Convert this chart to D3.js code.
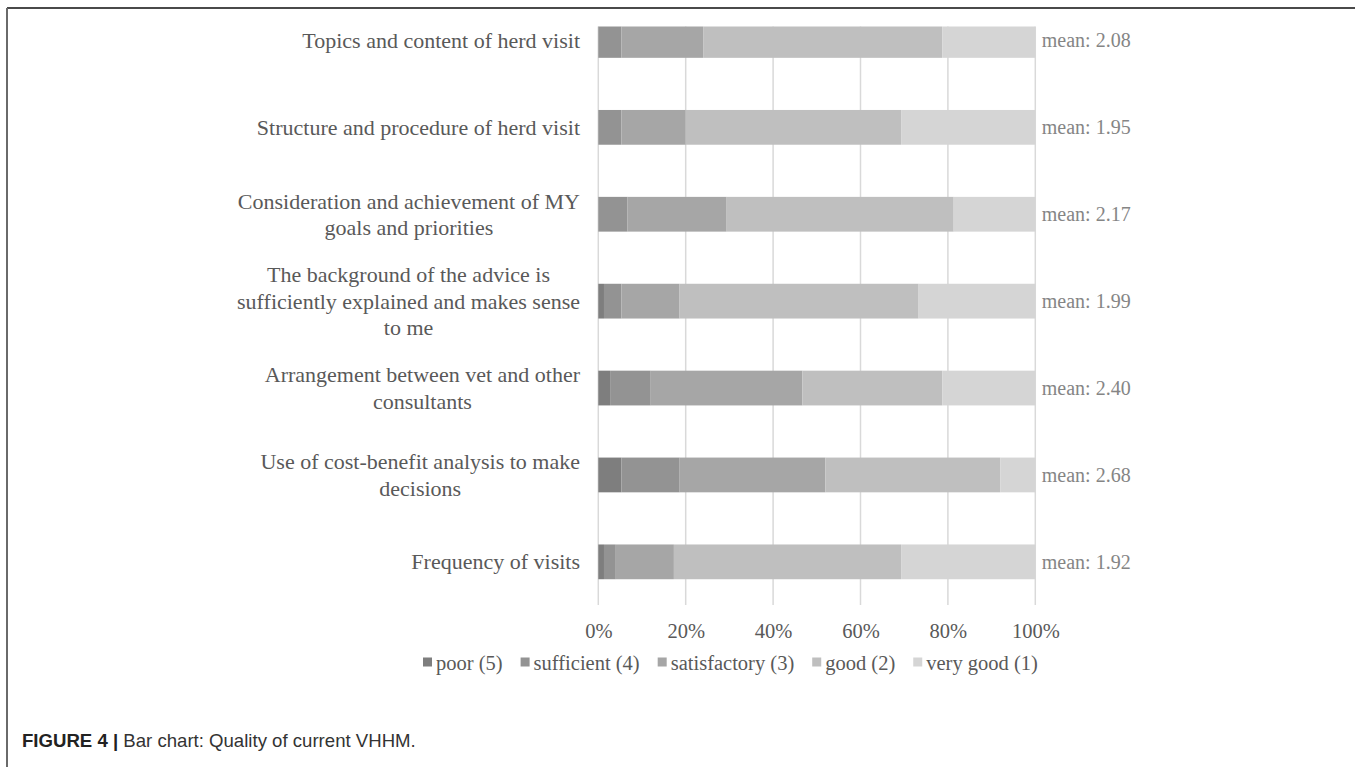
<!DOCTYPE html>
<html>
<head>
<meta charset="utf-8">
<script src="https://cdn.jsdelivr.net/npm/d3@7"></script>
<style>
  html, body { margin: 0; padding: 0; background: #fff; }
  svg { display: block; }
</style>
</head>
<body>
<svg id="chart" width="1355" height="767"></svg>
<script>
// Survey items, top to bottom
const categories = [
  "Topics and content of herd visit",
  "Structure and procedure of herd visit",
  "Consideration and achievement of MY goals and priorities",
  "The background of the advice is sufficiently explained and makes sense to me",
  "Arrangement between vet and other consultants",
  "Use of cost-benefit analysis to make decisions",
  "Frequency of visits"
];

// Rating levels (worst to best), stacked left to right
const ratings = ["poor (5)", "sufficient (4)", "satisfactory (3)", "good (2)", "very good (1)"];

// Share of answers per rating, in percent, one value per item
const poor         = [0.0, 0.0, 0.0, 1.3, 2.7, 5.3, 1.3];
const sufficient   = [5.3, 5.3, 6.7, 4.0, 9.3, 13.3, 2.7];
const satisfactory = [18.7, 14.7, 22.7, 13.3, 34.7, 33.3, 13.3];
const good         = [54.7, 49.3, 52.0, 54.7, 32.0, 40.0, 52.0];
const veryGood     = [21.3, 30.7, 18.7, 26.7, 21.3, 8.0, 30.7];

// Mean rating per item
const means = [2.08, 1.95, 2.17, 1.99, 2.40, 2.68, 1.92];

const tickValues = [0, 0.2, 0.4, 0.6, 0.8, 1.0];

const colors = ["#7e7e7e", "#939393", "#a6a6a6", "#bfbfbf", "#d5d5d5"];

const seriesValues = [poor, sufficient, satisfactory, good, veryGood];
const rows = categories.map((c, i) => {
  const r = { category: c };
  ratings.forEach((k, j) => { r[k] = seriesValues[j][i]; });
  return r;
});

const svg = d3.select("#chart");
const serif = "'Liberation Serif', 'Times New Roman', serif";

// Figure frame
svg.append("line").attr("x1", 7).attr("x2", 1355).attr("y1", 8).attr("y2", 8)
  .attr("stroke", "#4a4a4a").attr("stroke-width", 2);
svg.append("line").attr("x1", 7).attr("x2", 7).attr("y1", 8).attr("y2", 767)
  .attr("stroke", "#6a6a6a").attr("stroke-width", 2);

const plotTop = 26.5, plotBottom = 605;

const x = d3.scaleLinear().domain([0, 1]).range([598.3, 1035.3]);
const y = d3.scaleBand().domain(categories).range([-3, 605.3])
  .paddingInner(0.6).paddingOuter(0.3);

// Vertical gridlines
svg.append("g").selectAll("line").data(tickValues).join("line")
  .attr("x1", d => x(d)).attr("x2", d => x(d))
  .attr("y1", plotTop).attr("y2", plotBottom)
  .attr("stroke", "#d9d9d9").attr("stroke-width", 1.5);

// Tick labels
const xAxis = d3.axisBottom(x).tickValues(tickValues).tickFormat(d3.format(".0%")).tickSize(0).tickPadding(0);
const ax = svg.append("g").attr("transform", `translate(0, ${plotBottom})`).call(xAxis);
ax.select(".domain").remove();
ax.selectAll("text").attr("dy", null).attr("y", 33)
  .attr("font-family", serif).attr("font-size", 20.5).attr("fill", "#595959");

// Stacked bars (100%)
const stack = d3.stack().keys(ratings).offset(d3.stackOffsetExpand);
const stacked = stack(rows);

svg.append("clipPath").attr("id", "plot-clip").append("rect")
  .attr("x", 0).attr("y", plotTop).attr("width", 1355).attr("height", plotBottom - plotTop);

const barsG = svg.append("g").attr("clip-path", "url(#plot-clip)");
barsG.selectAll("g").data(stacked).join("g")
  .attr("fill", (d, i) => colors[i])
  .selectAll("rect").data(d => d).join("rect")
  .attr("x", d => x(d[0]))
  .attr("width", d => x(d[1]) - x(d[0]))
  .attr("y", d => y(d.data.category))
  .attr("height", y.bandwidth());

// Category labels: wrapped, block right-aligned, lines centred in block
const catFont = 22, lineH = 26.4, wrapWidth = 360;
const measure = svg.append("text").attr("font-family", serif).attr("font-size", catFont).attr("visibility", "hidden");
function textWidth(s) { measure.text(s); return measure.node().getComputedTextLength(); }
function wrap(s) {
  const words = s.split(" ");
  const lines = [];
  let cur = "";
  words.forEach(w => {
    const t = cur ? cur + " " + w : w;
    if (cur && textWidth(t) > wrapWidth) { lines.push(cur); cur = w; } else { cur = t; }
  });
  if (cur) lines.push(cur);
  return lines;
}
const labelRight = 580;
const labG = svg.append("g");
categories.forEach(c => {
  const lines = wrap(c);
  const blockW = d3.max(lines, textWidth);
  const cx = labelRight - blockW / 2;
  const cy = y(c) + y.bandwidth() / 2;
  const first = cy - (lines.length - 1) * lineH / 2 + 7.5;
  const t = labG.append("text").attr("font-family", serif).attr("font-size", catFont)
    .attr("fill", "#595959").attr("text-anchor", "middle");
  lines.forEach((ln, i) => {
    t.append("tspan").attr("x", cx).attr("y", first + i * lineH).text(ln);
  });
});
measure.remove();

// Mean labels at the right end of each bar
svg.append("g").selectAll("text").data(categories).join("text")
  .attr("x", x(1) + 6.5)
  .attr("y", d => y(d) + y.bandwidth() / 2 + 7)
  .attr("font-family", serif).attr("font-size", 20).attr("fill", "#858585")
  .text((d, i) => "mean: " + means[i].toFixed(2));

// Legend
const legFont = 20.5, sw = 9, swGap = 4, itemGap = 18;
const legG = svg.append("g");
let lx = 423;
const legY = 670;
ratings.forEach((r, i) => {
  legG.append("rect").attr("x", lx).attr("y", legY - 12.5).attr("width", sw).attr("height", sw).attr("fill", colors[i]);
  const t = legG.append("text").attr("x", lx + sw + swGap).attr("y", legY)
    .attr("font-family", serif).attr("font-size", legFont).attr("fill", "#595959").text(r);
  lx += sw + swGap + t.node().getComputedTextLength() + itemGap;
});

// Caption
const cap = svg.append("text").attr("x", 22).attr("y", 747)
  .attr("font-family", "'Liberation Sans', Arial, sans-serif").attr("font-size", 18.6).attr("fill", "#222");
cap.append("tspan").attr("font-weight", "bold").text("FIGURE 4 | ");
cap.append("tspan").attr("fill", "#333").text("Bar chart: Quality of current VHHM.");
</script>
</body>
</html>
